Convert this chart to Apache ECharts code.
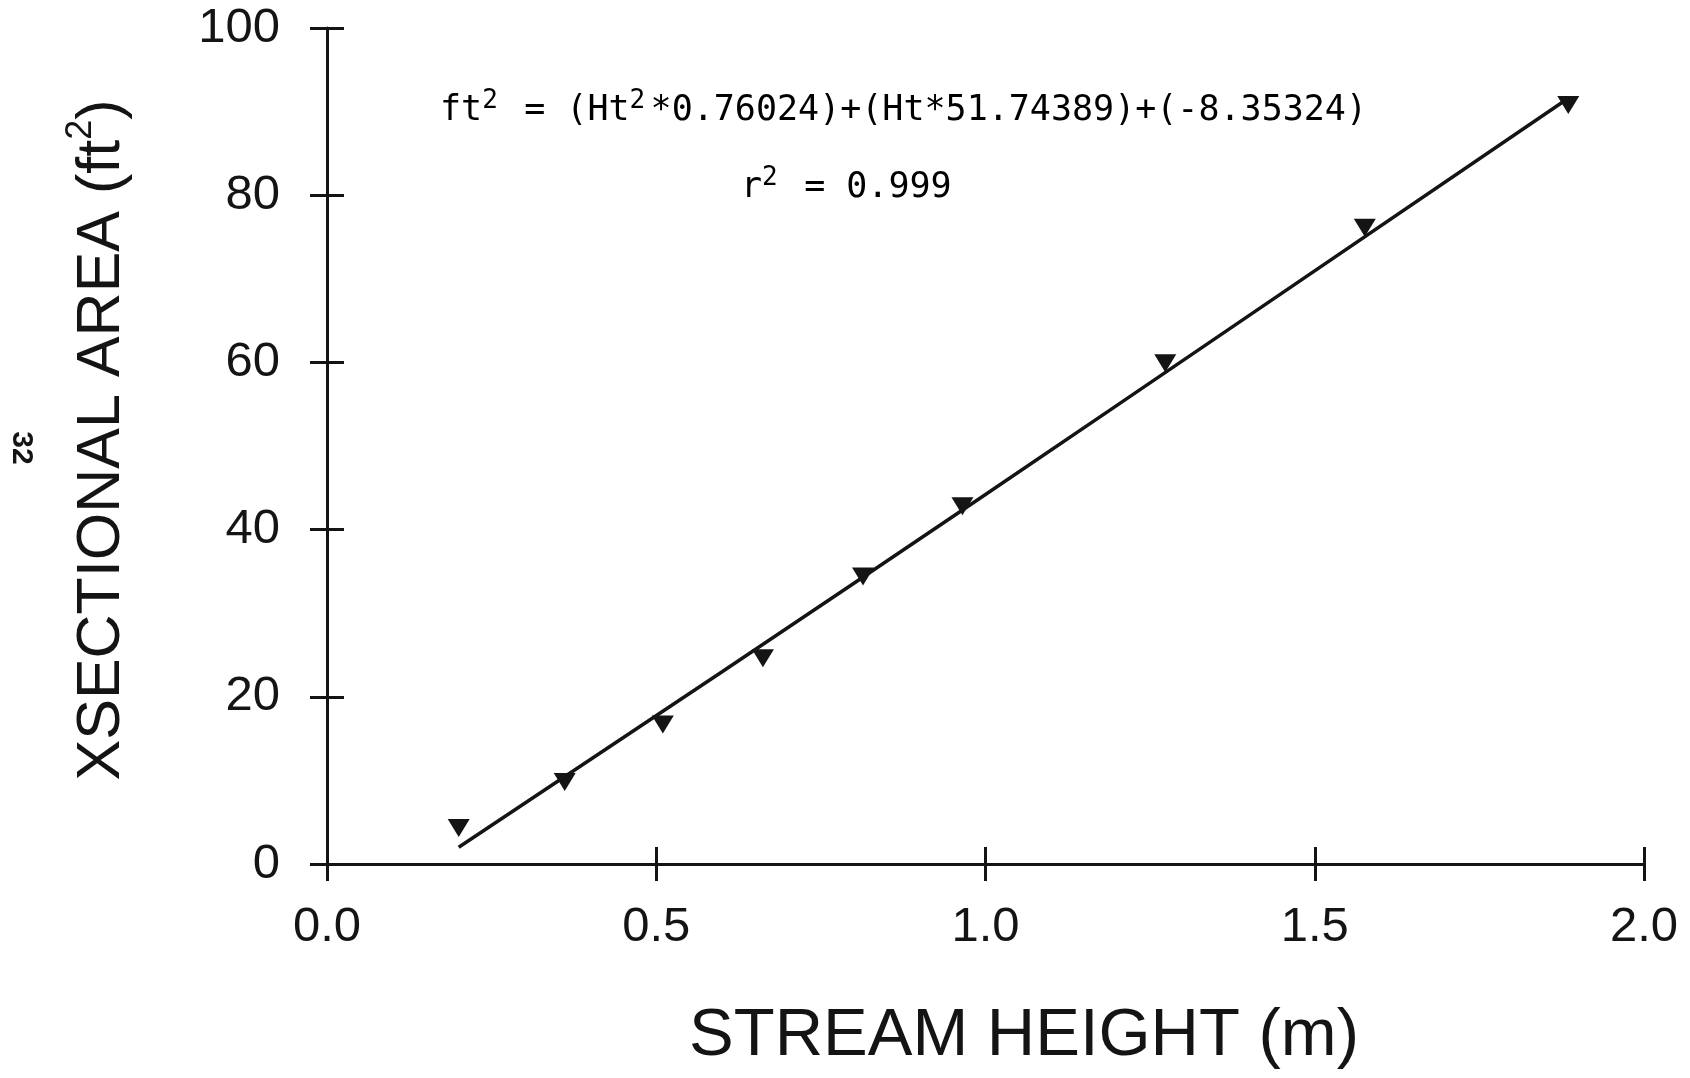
<!DOCTYPE html>
<html>
<head>
<meta charset="utf-8">
<script src="https://cdn.jsdelivr.net/npm/echarts@6/dist/echarts.min.js"></script>
<style>
  html, body { margin: 0; padding: 0; background: #fff; }
  #chart { width: 1690px; height: 1078px; }
</style>
</head>
<body>
<div id="chart"></div>
<script>
// ---- data ----
var heightM = [0.200, 0.361, 0.510, 0.662, 0.814, 0.965, 1.273, 1.576, 1.885];
var areaFt2 = [4.3, 9.8, 16.7, 24.6, 34.4, 42.8, 59.9, 76.1, 90.8];
var fitX = [0.200, 0.600, 1.000, 1.400, 1.885];
var fitY = [2.0, 23.0, 44.2, 65.6, 91.6];
var xTicks = { min: 0, max: 2, interval: 0.5 };
var yTicks = { min: 0, max: 100, interval: 20 };
var xTitle = 'STREAM HEIGHT (m)';
var yTitleMain = 'XSECTIONAL AREA (ft';
var equationParts = ['ft', '2', ' = (Ht', '2', '*0.76024)+(Ht*51.74389)+(-8.35324)'];
var rsqParts = ['r', '2', ' = 0.999'];
var pageNumber = '32';

var INK = '#141414';
var tickFont = 'Liberation Sans, Arial, sans-serif';
var monoFont = 'DejaVu Sans Mono, monospace';

function pairs(xs, ys) { return xs.map(function (x, i) { return [x, ys[i]]; }); }

function axisBase(scale, isX, inside) {
  return {
    type: 'value',
    min: scale.min, max: scale.max, interval: scale.interval,
    position: isX ? 'bottom' : 'left',
    axisLine: { show: !inside, onZero: false, lineStyle: { color: INK, width: 3 } },
    axisTick: { show: true, inside: inside, length: 17, lineStyle: { color: INK, width: 3 } },
    axisLabel: inside ? { show: false } : {
      show: true, color: INK, fontFamily: tickFont, fontSize: 49,
      margin: isX ? 39 : 47,
      formatter: isX ? function (v) { return v.toFixed(1); } : function (v) { return String(v); }
    },
    splitLine: { show: false }
  };
}

var eqRich = {
  m: { fontFamily: monoFont, fontSize: 35, lineHeight: 40, color: INK, verticalAlign: 'bottom' },
  s: { fontFamily: monoFont, fontSize: 26, lineHeight: 26, padding: [0, 0, 22, 0], width: 21, color: INK, verticalAlign: 'top' }
};
function richStr(parts) {
  return parts.map(function (p, i) { return (i % 2 === 0 ? '{m|' : '{s|') + p + '}'; }).join('');
}

var chart = echarts.init(document.getElementById('chart'), null, { renderer: 'canvas' });
chart.setOption({
  backgroundColor: '#ffffff',
  animation: false,
  grid: { left: 327, right: 46, top: 28, bottom: 214, containLabel: false },
  xAxis: [axisBase(xTicks, true, false), axisBase(xTicks, true, true)],
  yAxis: [axisBase(yTicks, false, false), axisBase(yTicks, false, true)],
  series: [
    {
      type: 'line', data: pairs(fitX, fitY), xAxisIndex: 0, yAxisIndex: 0,
      showSymbol: false, smooth: true,
      lineStyle: { color: INK, width: 3.5 }, z: 2
    },
    {
      type: 'scatter', data: pairs(heightM, areaFt2), xAxisIndex: 0, yAxisIndex: 0,
      symbol: 'triangle', symbolRotate: 180, symbolSize: [22, 18],
      itemStyle: { color: INK, opacity: 1 }, z: 3
    }
  ],
  graphic: [
    {
      type: 'text', x: 1024, y: 1037,
      style: { text: xTitle, fontFamily: tickFont, fontSize: 67, fill: INK, align: 'center', verticalAlign: 'middle' }
    },
    {
      type: 'text', x: 98, y: 440, rotation: Math.PI / 2,
      style: {
        text: '{m|' + yTitleMain + '}{s|2}{m|)}',
        align: 'center', verticalAlign: 'middle',
        rich: {
          m: { fontFamily: tickFont, fontSize: 61, lineHeight: 70, fill: INK, color: INK, verticalAlign: 'bottom' },
          s: { fontFamily: tickFont, fontSize: 36, lineHeight: 36, padding: [0, 0, 40, 0], fill: INK, color: INK, verticalAlign: 'top' }
        }
      }
    },
    {
      type: 'text', x: 440, y: 108,
      style: { text: richStr(equationParts), rich: eqRich, align: 'left', verticalAlign: 'middle' }
    },
    {
      type: 'text', x: 741, y: 185,
      style: { text: richStr(rsqParts), rich: eqRich, align: 'left', verticalAlign: 'middle' }
    },
    {
      type: 'text', x: 21, y: 448, rotation: -Math.PI / 2,
      style: { text: pageNumber, fontFamily: tickFont, fontWeight: 'bold', fontSize: 30, fill: INK, align: 'center', verticalAlign: 'middle' }
    }
  ]
});
</script>
</body>
</html>
